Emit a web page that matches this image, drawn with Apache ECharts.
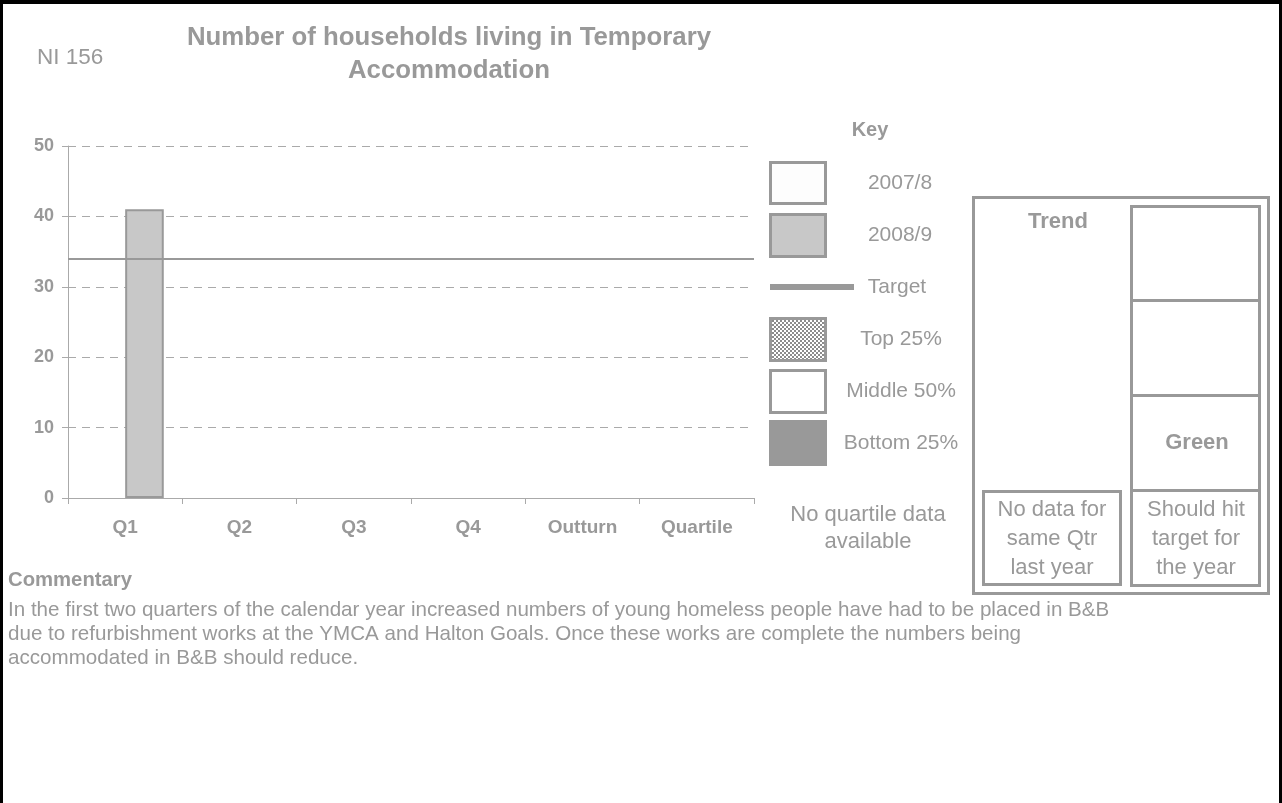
<!DOCTYPE html>
<html>
<head>
<meta charset="utf-8">
<script src="https://cdn.jsdelivr.net/npm/echarts@6/dist/echarts.min.js"></script>
<style>
html,body{margin:0;padding:0;background:#fff;}
#chart{width:1282px;height:803px;}
</style>
</head>
<body>
<div id="chart"></div>
<script>
// ---- data ----
const categories = ['Q1', 'Q2', 'Q3', 'Q4', 'Outturn', 'Quartile'];
const values2007_8 = [null, null, null, null, null, null];
const values2008_9 = [41, null, null, null, null, null];
const targetValues = [34];
const yTicks = [0, 10, 20, 30, 40, 50];
const titleLines = ['Number of households living in Temporary', 'Accommodation'];
const keyLabels = ['2007/8', '2008/9', 'Target', 'Top 25%', 'Middle 50%', 'Bottom 25%'];
const commentaryLines = [
  'In the first two quarters of the calendar year increased numbers of young homeless people have had to be placed in B&B',
  'due to refurbishment works at the YMCA and Halton Goals. Once these works are complete the numbers being',
  'accommodated in B&B should reduce.'
];

const FF = "'Liberation Sans', Arial, Helvetica, sans-serif";
const G = '#999999';

// checker pattern for Top 25%
const pc = document.createElement('canvas');
pc.width = 4; pc.height = 4;
const pctx = pc.getContext('2d');
pctx.fillStyle = '#ffffff'; pctx.fillRect(0, 0, 4, 4);
pctx.fillStyle = '#8c8c8c';
pctx.fillRect(0, 0, 2, 2); pctx.fillRect(2, 2, 2, 2);

function txt(text, x, y, size, weight, align, lh) {
  return {
    type: 'text', silent: true,
    style: {
      text: text, x: x, y: y, fill: G,
      font: (weight || 'normal') + ' ' + size + 'px ' + FF,
      align: align || 'left', verticalAlign: 'middle',
      textAlign: align || 'left', textVerticalAlign: 'middle',
      lineHeight: lh || Math.round(size * 1.2)
    }
  };
}
function box(x, y, w, h, fill, stroke, lw) {
  return {
    type: 'rect', silent: true,
    shape: { x: x, y: y, width: w, height: h },
    style: { fill: fill, stroke: stroke || null, lineWidth: lw || 0 }
  };
}
function hline(x1, x2, y, color, lw) {
  return {
    type: 'line', silent: true,
    shape: { x1: x1, y1: y, x2: x2, y2: y },
    style: { stroke: color, lineWidth: lw }
  };
}

const graphics = [
  // page border
  box(0, 0, 1282, 4, '#000'),
  box(0, 0, 3, 803, '#000'),
  box(1279, 0, 3, 803, '#000'),
  // titles
  txt('NI 156', 37, 58, 22.5, 'normal', 'left'),
  txt(titleLines[0], 449, 38, 25.8, 'bold', 'center'),
  txt(titleLines[1], 449, 71, 25.8, 'bold', 'center'),
  // key
  txt('Key', 870, 130, 20, 'bold', 'center'),
  box(770.5, 162.5, 55, 41, '#fdfdfd', G, 3),
  box(770.5, 214.5, 55, 42, '#c8c8c8', G, 3),
  hline(770, 854, 287, G, 6),
  box(770.5, 318.5, 55, 42, { image: pc, repeat: 'repeat' }, G, 3),
  box(770.5, 370.5, 55, 42, '#ffffff', G, 3),
  box(769, 420, 58, 46, G),
  txt(keyLabels[0], 900, 183, 21, 'normal', 'center'),
  txt(keyLabels[1], 900, 235, 21, 'normal', 'center'),
  txt(keyLabels[2], 897, 287, 21, 'normal', 'center'),
  txt(keyLabels[3], 901, 339, 21, 'normal', 'center'),
  txt(keyLabels[4], 901, 391, 21, 'normal', 'center'),
  txt(keyLabels[5], 901, 443, 21, 'normal', 'center'),
  txt('No quartile data\navailable', 868, 528, 22, 'normal', 'center', 27),
  // trend box
  box(973.5, 197.5, 295, 396, 'none', G, 3),
  box(1131.5, 206.5, 128, 379, 'none', G, 3),
  hline(1131.5, 1259.5, 300.5, G, 3),
  hline(1131.5, 1259.5, 395.5, G, 3),
  hline(1131.5, 1259.5, 490.5, G, 3),
  box(983.5, 491.5, 137, 93, 'none', G, 3),
  txt('Trend', 1058, 222, 22, 'bold', 'center'),
  txt('Green', 1197, 443, 22, 'bold', 'center'),
  txt('No data for\nsame Qtr\nlast year', 1052, 539, 22, 'normal', 'center', 29),
  txt('Should hit\ntarget for\nthe year', 1196, 539, 22, 'normal', 'center', 29),
  // commentary
  txt('Commentary', 8, 580, 20.3, 'bold', 'left'),
  txt(commentaryLines[0], 8, 610, 20.6, 'normal', 'left'),
  txt(commentaryLines[1], 8, 634, 20.6, 'normal', 'left'),
  txt(commentaryLines[2], 8, 658, 20.6, 'normal', 'left')
];

const chart = echarts.init(document.getElementById('chart'), null, { renderer: 'canvas' });
chart.setOption({
  animation: false,
  backgroundColor: '#ffffff',
  grid: { left: 68, right: 528, top: 146, bottom: 305, containLabel: false },
  xAxis: {
    type: 'category',
    data: categories,
    boundaryGap: true,
    axisLine: { show: true, lineStyle: { color: '#aaaaaa', width: 1 } },
    axisTick: { show: true, length: 6, lineStyle: { color: '#aaaaaa' } },
    axisLabel: { color: G, fontWeight: 'bold', fontSize: 19, fontFamily: FF, margin: 20 },
    splitLine: { show: false }
  },
  yAxis: {
    type: 'value',
    min: yTicks[0], max: yTicks[yTicks.length - 1], interval: yTicks[1] - yTicks[0],
    axisLine: { show: true, lineStyle: { color: '#aaaaaa', width: 1 } },
    axisTick: { show: true, length: 6, lineStyle: { color: '#aaaaaa' } },
    axisLabel: { color: G, fontWeight: 'bold', fontSize: 18, fontFamily: FF, margin: 14 },
    splitLine: { show: true, lineStyle: { color: '#aaaaaa', type: [8, 6], width: 1 } }
  },
  series: [{
    name: '2007/8',
    type: 'bar',
    data: values2007_8,
    barWidth: 38.6,
    barGap: '0%',
    itemStyle: { color: '#fdfdfd', borderColor: G, borderWidth: 2 },
    emphasis: { disabled: true }
  }, {
    name: '2008/9',
    type: 'bar',
    data: values2008_9,
    barWidth: 38.6,
    barGap: '0%',
    itemStyle: { color: '#c8c8c8', borderColor: G, borderWidth: 2 },
    emphasis: { disabled: true },
    markLine: {
      silent: true,
      symbol: ['none', 'none'],
      label: { show: false },
      lineStyle: { color: G, type: 'solid', width: 2 },
      emphasis: { disabled: true },
      data: [{ yAxis: targetValues[0] }]
    }
  }],
  graphic: graphics
});
</script>
</body>
</html>
